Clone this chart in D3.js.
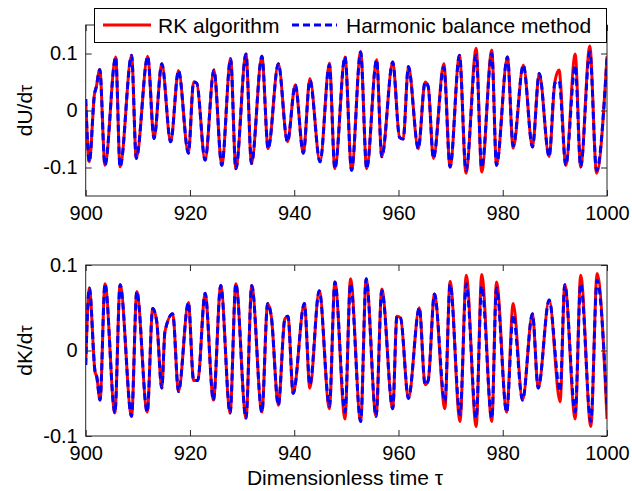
<!DOCTYPE html>
<html>
<head>
<meta charset="utf-8">
<script src="https://cdn.jsdelivr.net/npm/d3@7"></script>
<style>
  body { margin: 0; background: #fff; }
  text { font-family: Arial, "Liberation Sans", sans-serif; fill: #000; }
</style>
</head>
<body>
<div id="chart"></div>
<script>
// extrema (and a few shoulders), top panel dU/dtau
const timeU = [900.0, 900.7, 901.7, 902.0, 902.7, 903.7, 905.75, 906.6, 908.8, 909.7, 911.9, 913.1, 914.6, 916.3, 917.8, 919.7,
  920.7, 921.3, 922.9, 924.6, 926.1, 927.8, 928.8, 930.75, 931.8, 933.8, 935.0, 936.95, 938.7, 940.2, 941.75, 943.0,
  944.95, 946.75, 947.8, 949.74, 951.0, 952.74, 953.9, 955.8, 956.8, 958.9, 960.2, 960.9, 961.9, 963.8, 965.1, 965.7,
  966.7, 968.7, 969.9, 971.7, 972.95, 974.9, 975.96, 977.9, 978.8, 980.9, 982.0, 983.95, 985.7, 987.0, 988.9, 990.0,
  990.8, 992.1, 993.9, 994.95, 996.7, 998.0, 1000.0];
const rkU = [0.02, -0.090, 0.030, 0.040, 0.072, -0.096, 0.094, -0.099, 0.097, -0.084, 0.095, -0.049, 0.082, -0.055, 0.070, -0.075,
  0.050, 0.048, -0.087, 0.071, -0.096, 0.091, -0.102, 0.099, -0.093, 0.095, -0.067, 0.082, -0.055, 0.045, -0.075, 0.056,
  -0.090, 0.083, -0.102, 0.094, -0.105, 0.103, -0.102, 0.089, -0.081, 0.085, -0.047, -0.050, 0.077, -0.067, 0.050, 0.042,
  -0.084, 0.082, -0.099, 0.097, -0.110, 0.109, -0.108, 0.106, -0.096, 0.094, -0.066, 0.080, -0.064, 0.065, -0.081, 0.050,
  0.071, -0.096, 0.099, -0.099, 0.113, -0.110, 0.095];
const hbU = [0.02, -0.090, 0.030, 0.040, 0.072, -0.096, 0.094, -0.099, 0.097, -0.084, 0.095, -0.049, 0.082, -0.055, 0.070, -0.075,
  0.050, 0.048, -0.087, 0.071, -0.096, 0.091, -0.102, 0.099, -0.093, 0.095, -0.067, 0.082, -0.055, 0.045, -0.075, 0.053,
  -0.090, 0.080, -0.102, 0.094, -0.105, 0.103, -0.102, 0.089, -0.081, 0.085, -0.047, -0.050, 0.077, -0.067, 0.050, 0.042,
  -0.084, 0.076, -0.099, 0.097, -0.105, 0.097, -0.100, 0.100, -0.096, 0.094, -0.062, 0.080, -0.064, 0.065, -0.081, 0.048,
  0.052, -0.096, 0.079, -0.099, 0.103, -0.105, 0.091];

// bottom panel dK/dtau
const timeK = [900.0, 900.7, 901.8, 902.1, 902.75, 903.7, 905.6, 906.6, 908.8, 909.8, 911.8, 912.85, 913.6, 914.6, 915.2, 916.7,
  917.8, 919.7, 920.7, 921.5, 922.9, 924.5, 925.9, 927.7, 928.8, 930.75, 931.85, 933.8, 934.9, 935.6, 936.95, 938.2,
  938.8, 939.8, 941.95, 943.0, 944.8, 946.75, 947.8, 949.74, 950.8, 952.75, 953.8, 955.7, 956.8, 958.9, 959.7, 960.4,
  961.9, 964.0, 965.1, 965.7, 966.9, 968.9, 969.9, 971.8, 973.0, 974.9, 975.96, 977.9, 978.8, 980.75, 982.0, 983.8,
  985.7, 986.8, 988.9, 991.0, 991.9, 993.9, 994.95, 996.9, 998.1, 1000.0];
const rkK = [-0.017, 0.073, -0.025, -0.030, -0.058, 0.078, -0.073, 0.077, -0.077, 0.069, -0.072, 0.049, 0.035, -0.044, 0.022, 0.043,
  -0.048, 0.056, -0.035, -0.035, 0.067, -0.058, 0.076, -0.073, 0.078, -0.079, 0.076, -0.072, 0.055, 0.040, -0.064, 0.037,
  0.040, -0.050, 0.055, -0.044, 0.070, -0.068, 0.080, -0.080, 0.084, -0.083, 0.084, -0.077, 0.072, -0.068, 0.040, 0.038,
  -0.056, 0.050, -0.040, -0.035, 0.066, -0.068, 0.081, -0.083, 0.088, -0.089, 0.089, -0.083, 0.080, -0.072, 0.055, -0.058,
  0.043, -0.044, 0.059, -0.060, 0.077, -0.080, 0.088, -0.089, 0.090, -0.080];
const hbK = [-0.017, 0.073, -0.025, -0.030, -0.058, 0.078, -0.073, 0.077, -0.077, 0.069, -0.072, 0.049, 0.035, -0.044, 0.022, 0.043,
  -0.048, 0.056, -0.035, -0.035, 0.067, -0.058, 0.076, -0.073, 0.078, -0.079, 0.076, -0.072, 0.055, 0.040, -0.064, 0.037,
  0.040, -0.050, 0.055, -0.040, 0.070, -0.065, 0.080, -0.072, 0.078, -0.083, 0.084, -0.077, 0.070, -0.068, 0.040, 0.038,
  -0.056, 0.050, -0.040, -0.035, 0.066, -0.060, 0.077, -0.075, 0.078, -0.079, 0.075, -0.079, 0.073, -0.072, 0.042, -0.058,
  0.043, -0.044, 0.059, -0.048, 0.077, -0.072, 0.078, -0.083, 0.082, -0.068];

const xTicks = [900, 920, 940, 960, 980, 1000];
const yTicksU = [-0.1, 0, 0.1];
const yTicksK = [-0.1, 0, 0.1];
const legendNames = ["RK algorithm", "Harmonic balance method"];

const W = 632, H = 491;
const left = 85.7, right = 607;

const svg = d3.select("#chart").append("svg")
    .attr("width", W)
    .attr("height", H);

const x = d3.scaleLinear().domain([900, 1000]).range([left, right]);

function drawPanel(top, bottom, yDomain, yTicks, times, rk, hb, label, id) {
    const y = d3.scaleLinear().domain(yDomain).range([bottom, top]);

    svg.append("clipPath").attr("id", "clip" + id)
        .append("rect")
        .attr("x", left).attr("y", top)
        .attr("width", right - left).attr("height", bottom - top);

    const line = d3.line()
        .x(d => x(d[0]))
        .y(d => y(d[1]))
        .curve(d3.curveMonotoneX);

    const g = svg.append("g").attr("clip-path", `url(#clip${id})`);
    g.append("path")
        .attr("d", line(times.map((t, i) => [t, rk[i]])))
        .attr("fill", "none")
        .attr("stroke", "#ff0000")
        .attr("stroke-width", 3);
    g.append("path")
        .attr("d", line(times.map((t, i) => [t, hb[i]])))
        .attr("fill", "none")
        .attr("stroke", "#0000ff")
        .attr("stroke-width", 3)
        .attr("stroke-dasharray", "7,4");

    // box
    svg.append("rect")
        .attr("x", left).attr("y", top)
        .attr("width", right - left).attr("height", bottom - top)
        .attr("fill", "none").attr("stroke", "#262626").attr("stroke-width", 1);

    const fmt = d => d === 0 ? "0" : d3.format(".1f")(d).replace("−", "-");

    svg.append("g")
        .attr("transform", `translate(0,${bottom})`)
        .call(d3.axisBottom(x).tickValues(xTicks).tickSizeInner(-6).tickSizeOuter(0).tickPadding(10).tickFormat(d3.format("d")));
    svg.append("g")
        .attr("transform", `translate(0,${top})`)
        .call(d3.axisTop(x).tickValues(xTicks).tickSizeInner(-6).tickSizeOuter(0).tickFormat(""));
    svg.append("g")
        .attr("transform", `translate(${left},0)`)
        .call(d3.axisLeft(y).tickValues(yTicks).tickSizeInner(-6).tickSizeOuter(0).tickPadding(8).tickFormat(fmt));
    svg.append("g")
        .attr("transform", `translate(${right},0)`)
        .call(d3.axisRight(y).tickValues(yTicks).tickSizeInner(-6).tickSizeOuter(0).tickFormat(""));

    svg.selectAll(".domain").remove();
    svg.selectAll(".tick line").attr("stroke", "#262626");
    svg.selectAll(".tick text").style("font-size", "20px").attr("font-family", null);

    // y label
    const yl = svg.append("text")
        .attr("transform", `translate(32,${(top + bottom) / 2}) rotate(-90)`)
        .attr("text-anchor", "middle")
        .style("font-size", "21px")
        .text(label);
    yl.append("tspan").style("font-size", "18px").text("τ");
}

drawPanel(25, 196, [-0.15, 0.15], yTicksU, timeU, rkU, hbU, "dU/d", "U");
drawPanel(265, 436, [-0.1, 0.1], yTicksK, timeK, rkK, hbK, "dK/d", "K");

svg.append("text")
    .attr("x", 345)
    .attr("y", 485)
    .attr("text-anchor", "middle")
    .style("font-size", "21px")
    .text("Dimensionless time τ");

// legend
const lg = svg.append("g");
lg.append("rect")
    .attr("x", 94.5).attr("y", 8.5)
    .attr("width", 512).attr("height", 34)
    .attr("fill", "#fff").attr("stroke", "#000").attr("stroke-width", 1);
lg.append("line")
    .attr("x1", 103).attr("x2", 151).attr("y1", 25).attr("y2", 25)
    .attr("stroke", "#ff0000").attr("stroke-width", 3);
lg.append("text")
    .attr("x", 158).attr("y", 32.5)
    .style("font-size", "21px")
    .text(legendNames[0]);
lg.append("line")
    .attr("x1", 292).attr("x2", 337).attr("y1", 25).attr("y2", 25)
    .attr("stroke", "#0000ff").attr("stroke-width", 3)
    .attr("stroke-dasharray", "7,4");
lg.append("text")
    .attr("x", 346).attr("y", 32.5)
    .style("font-size", "21px")
    .text(legendNames[1]);
</script>
</body>
</html>
